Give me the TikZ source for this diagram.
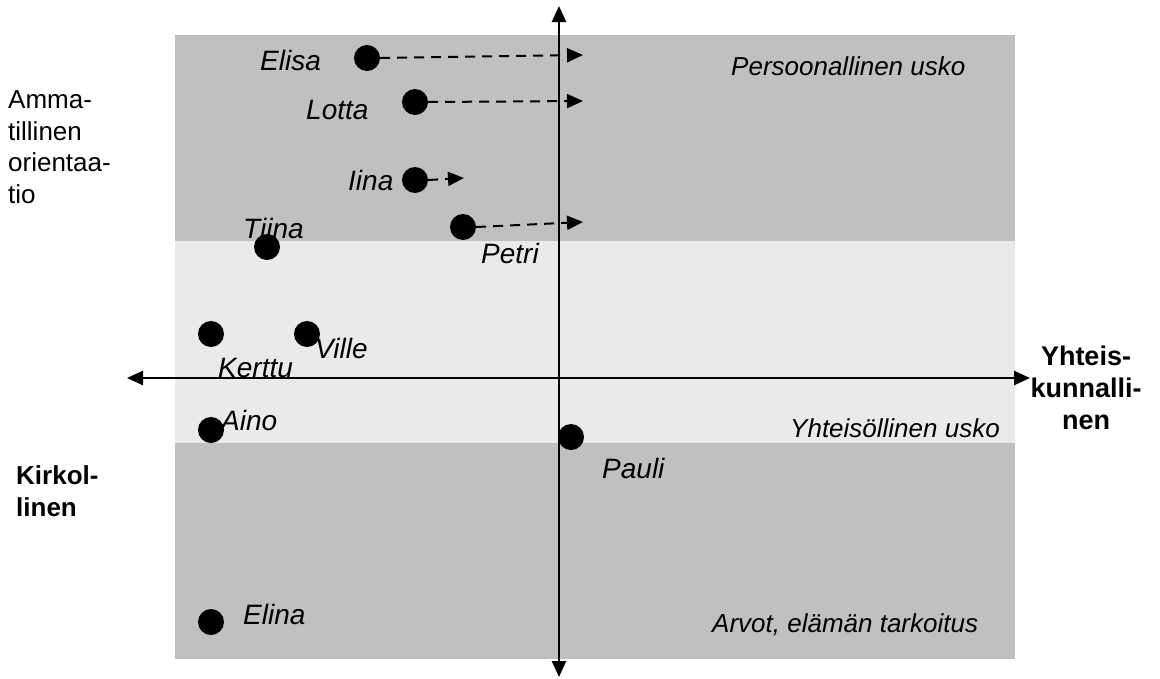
\documentclass[tikz,border=0pt]{standalone}
\usepackage{fontspec}
\setmainfont{Liberation Sans}
\usetikzlibrary{arrows.meta}
\definecolor{darkband}{RGB}{192,192,192}
\definecolor{lightband}{RGB}{234,234,234}
\tikzset{
  dotnode/.style={circle,fill=black,inner sep=0pt,minimum size=26pt},
  plabel/.style={font=\fontsize{28}{32}\selectfont\itshape,inner sep=0pt,anchor=base west},
  alabel/.style={font=\fontsize{26}{31.5}\selectfont\itshape,inner sep=0pt,anchor=base west},
  sidetext/.style={font=\fontsize{26}{31.5}\selectfont,inner sep=0pt,align=left,anchor=base west},
  sidebold/.style={font=\fontsize{26}{32}\selectfont\bfseries,inner sep=0pt},
  axisline/.style={line width=2.5pt,{Triangle[length=16pt,width=14pt]}-{Triangle[length=16pt,width=14pt]}},
  movearrow/.style={line width=2pt,dash pattern=on 10pt off 7pt,-{Triangle[length=16pt,width=14pt]}}
}
\begin{document}
\begin{tikzpicture}[x=1pt,y=-1pt]
\useasboundingbox (0,0) rectangle (1160,678);
% bands
\fill[darkband] (175,35) rectangle (1015,659);
\fill[lightband] (175,241) rectangle (1015,443);
% axes
\coordinate (ytop) at (559,6);
\coordinate (ybot) at (559,677);
\coordinate (xleft) at (127,378);
\coordinate (xright) at (1030,378);
\draw[axisline] (ybot) -- (ytop);
\draw[axisline] (xleft) -- (xright);
% dots
\node[dotnode] (elisa) at (367,58) {};
\node[dotnode] (lotta) at (415,102) {};
\node[dotnode] (iina) at (415,180) {};
\node[dotnode] (petri) at (463,227) {};
\node[dotnode] (tiina) at (267,247) {};
\node[dotnode] (kerttu) at (211,334) {};
\node[dotnode] (ville) at (307,334) {};
\node[dotnode] (aino) at (211,430) {};
\node[dotnode] (pauli) at (571,437) {};
\node[dotnode] (elina) at (211,622) {};
% movement arrows
\coordinate (elisaE) at (583,55);
\coordinate (lottaE) at (583,101);
\coordinate (iinaE) at (464,178);
\coordinate (petriE) at (583,222);
\draw[movearrow] (elisa.east) -- (elisaE);
\draw[movearrow] (lotta.east) -- (lottaE);
\draw[movearrow] (iina.east) -- (iinaE);
\draw[movearrow] (petri.east) -- (petriE);
% names
\node[plabel] (telisa) at (260,70) {Elisa};
\node[plabel] (tlotta) at (306,119) {Lotta};
\node[plabel] (tiina2) at (348,190) {Iina};
\node[plabel] (ttiina) at (243,238) {Tiina};
\node[plabel] (tpetri) at (481,263) {Petri};
\node[plabel] (tville) at (315,358) {Ville};
\node[plabel] (tkerttu) at (218,377) {Kerttu};
\node[plabel] (taino) at (221,430) {Aino};
\node[plabel] (tpauli) at (602,478) {Pauli};
\node[plabel] (telina) at (243,624) {Elina};
% area labels
\node[alabel] (pers) at (731,75) {Persoonallinen usko};
\node[alabel] (yht) at (790,437) {Yhteisöllinen usko};
\node[alabel] (arvot) at (712,632) {Arvot, elämän tarkoitus};
% side labels
\node[sidetext] (amma) at (8,203) {Amma-\\tillinen\\orientaa-\\tio};
\node[sidebold,align=left,anchor=base west] (kirk) at (16,516) {Kirkol-\\linen};
\node[sidebold,font=\fontsize{27}{32}\selectfont\bfseries,align=center,anchor=base] (yhteis) at (1086,429) {Yhteis-\\kunnalli-\\nen};
\end{tikzpicture}
\end{document}
